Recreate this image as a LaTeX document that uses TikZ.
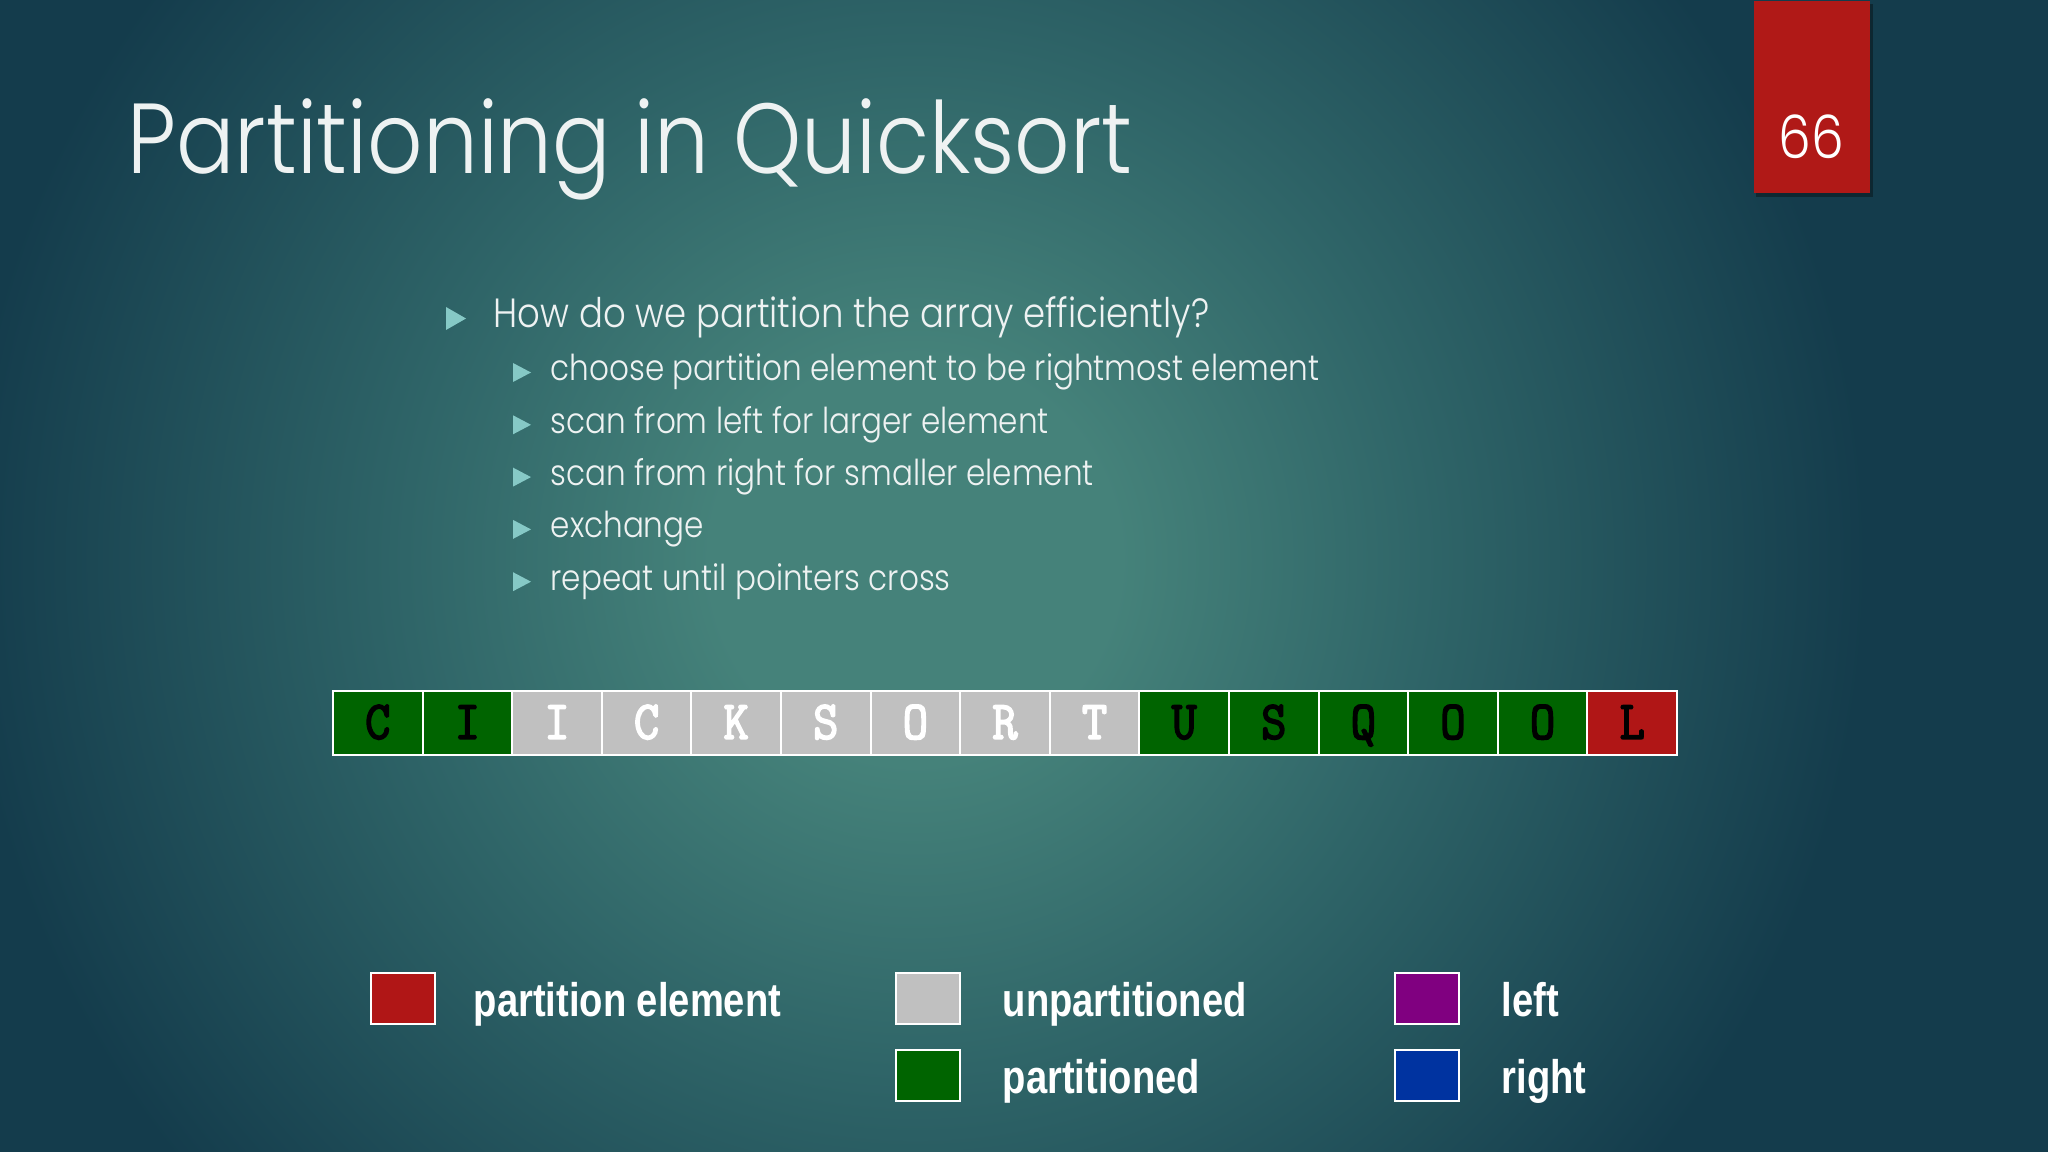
\documentclass[tikz,border=0pt]{standalone}
\usepackage{fontspec}
\setmainfont{Poppins}[FakeStretch=0.87]
\IfFontExistsTF{Poppins Light}{\newfontfamily\thinfont{Poppins Light}[FakeStretch=0.87]}{\newfontfamily\thinfont{Poppins}[FakeStretch=0.87]}
\newfontfamily\legendfont{Liberation Sans}[FakeStretch=0.81]
\newfontfamily\cellfont{Latin Modern Mono}[FakeStretch=0.9, FakeBold=3]
\definecolor{bgcenter}{HTML}{45827A}
\definecolor{bgmid}{HTML}{2F6568}
\definecolor{bgedge}{HTML}{143C4C}
\definecolor{slidered}{HTML}{B01917}
\definecolor{txt}{HTML}{EEF2F2}
\definecolor{bul}{HTML}{86C9C6}
\definecolor{cgreen}{HTML}{006400}
\definecolor{cgray}{HTML}{C0C0C0}
\definecolor{cred}{HTML}{B01616}
\definecolor{cpurple}{HTML}{800080}
\definecolor{cblue}{HTML}{0033A0}
\pgfdeclareradialshading{bgshade}{\pgfpoint{0bp}{0bp}}{color(0bp)=(bgcenter); color(3bp)=(bgcenter); color(7.5bp)=(bgmid); color(14bp)=(bgedge); color(50bp)=(bgedge)}
\tikzset{
  cell/.style={draw=white, line width=0.6pt, minimum width=0.896cm, minimum height=0.64cm, inner sep=0pt,
    font=\cellfont\fontsize{15.5}{15.5}\selectfont, text height=9pt, text depth=0pt},
  legbox/.style={draw=white, line width=0.5pt, minimum width=0.64cm, minimum height=0.51cm, inner sep=0pt},
  legtext/.style={anchor=base west, inner sep=0pt, text=white, font=\legendfont\bfseries\fontsize{13.4}{14}\selectfont},
  mainbullet/.style={anchor=base west, inner sep=0pt, text=txt, font=\thinfont\fontsize{11.6}{13}\selectfont},
  subbullet/.style={anchor=base west, inner sep=0pt, text=txt, font=\thinfont\fontsize{10.15}{12}\selectfont},
}
\begin{document}
\begin{tikzpicture}[x=0.01cm, y=-0.01cm]
\useasboundingbox (0,0) rectangle (2048,1152);
\clip (0,0) rectangle (2048,1152);
\shade[shading=bgshade] (915,560) circle (1700);
% page number box
\fill[black, opacity=0.35] (1756,4) rectangle (1873,197);
\node[fill=slidered, minimum width=1.16cm, minimum height=1.92cm, inner sep=0pt, anchor=north west] (pagebox) at (1753,0) {};
\node[text=white, inner sep=0pt, font=\thinfont\fontsize{17}{17}\selectfont] (pagenum) at (1811,137) {66};
% title
\node[anchor=base west, inner sep=0pt, text=txt, font=\thinfont\fontsize{28.3}{30}\selectfont] (title) at (127,174) {Partitioning in Quicksort};
% bullets
\fill[bul] (446,307) -- (446,330) -- (466,318.5) -- cycle;
\node[mainbullet] (b0) at (493,328) {How do we partition the array efficiently?};
\foreach \t [count=\i from 0] in {choose partition element to be rightmost element, scan from left for larger element, scan from right for smaller element, exchange, repeat until pointers cross} {
  \fill[bul] (513,{363+52.3*\i}) -- (513,{382+52.3*\i}) -- (531,{372.5+52.3*\i}) -- cycle;
  \node[subbullet] (s\i) at (550,{381+52.3*\i}) {\t};
}
% array
\foreach \L/\C/\T [count=\i] in {C/cgreen/black, I/cgreen/black, I/cgray/white, C/cgray/white, K/cgray/white, S/cgray/white, O/cgray/white, R/cgray/white, T/cgray/white, U/cgreen/black, S/cgreen/black, Q/cgreen/black, O/cgreen/black, O/cgreen/black, L/cred/black} {
  \node[cell, fill=\C, text=\T] (c\i) at ({333+89.6*(\i-0.5)},723) {\L};
}
% legend
\node[legbox, fill=cred] (kred) at (403,998.5) {};
\node[legtext] (tred) at (473,1016) {partition element};
\node[legbox, fill=cgray] (kgray) at (928,998.5) {};
\node[legtext] (tgray) at (1002,1016) {unpartitioned};
\node[legbox, fill=cpurple] (kpurple) at (1427,998.5) {};
\node[legtext] (tpurple) at (1501,1016) {left};
\node[legbox, fill=cgreen] (kgreen) at (928,1075.5) {};
\node[legtext] (tgreen) at (1002,1093) {partitioned};
\node[legbox, fill=cblue] (kblue) at (1427,1075.5) {};
\node[legtext] (tblue) at (1501,1093) {right};
\end{tikzpicture}
\end{document}
